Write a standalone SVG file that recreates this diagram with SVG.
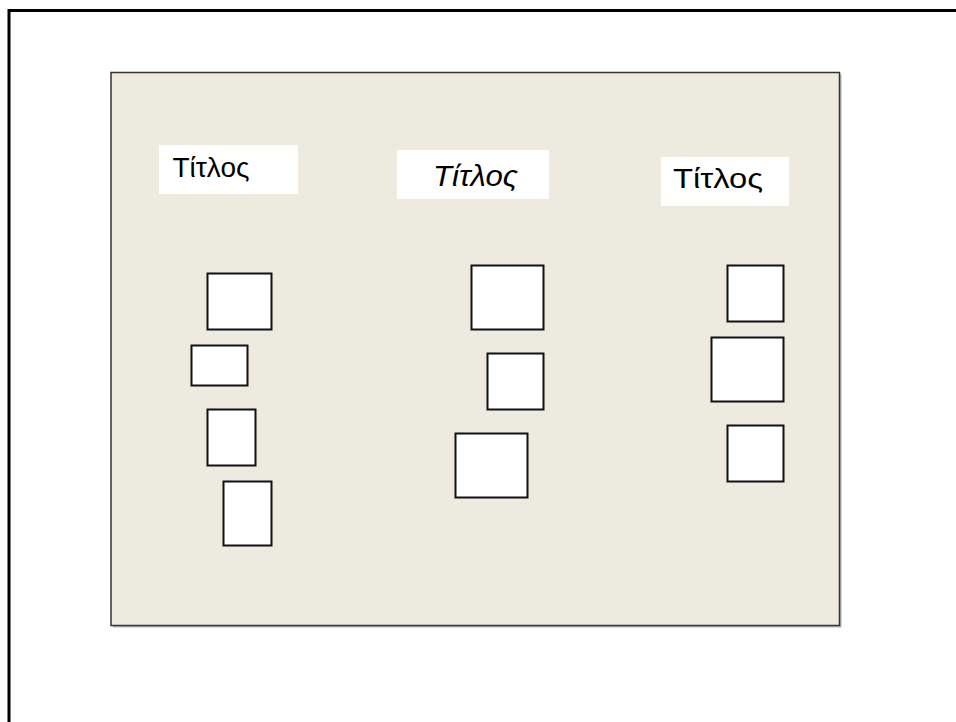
<svg xmlns="http://www.w3.org/2000/svg" width="956" height="722" viewBox="0 0 956 722">
<style>
.box{fill:#ffffff;stroke:#111111;stroke-width:2}
.shadow{fill:#888888;opacity:0.6}
.tbox{fill:#ffffff;stroke:none}
.t{fill:#000000;font-family:"Liberation Sans","DejaVu Sans",sans-serif}
</style>
<rect width="956" height="722" fill="#ffffff"/>
<g id="frame">
<path d="M9,722 V10.5 H956" fill="none" stroke="#000000" stroke-width="3"/>
</g>
<g id="panel">
<rect x="113" y="74.5" width="728.5" height="553" class="shadow"/>
<rect x="111" y="72.5" width="728.5" height="553" fill="#EDEAE0" stroke="#333333" stroke-width="1.5"/>
</g>
<g id="title1">
<rect x="159" y="145" width="139" height="49" class="tbox"/>
<text x="172.5" y="177" class="t" font-size="27" font-weight="300" textLength="77" lengthAdjust="spacingAndGlyphs">Τίτλος</text>
</g>
<g id="title2">
<rect x="397" y="150" width="152" height="49" class="tbox"/>
<text x="433" y="185.5" class="t" font-size="30" font-style="italic" textLength="85" lengthAdjust="spacingAndGlyphs">Τίτλος</text>
</g>
<g id="title3">
<rect x="661" y="157" width="128" height="49" class="tbox"/>
<text x="673" y="188" class="t" font-size="27" textLength="90" lengthAdjust="spacingAndGlyphs">Τίτλος</text>
</g>
<g id="col1">
<rect id="c1b1" x="207.5" y="273.5" width="64" height="56" class="box"/>
<rect id="c1b2" x="191.5" y="345.5" width="56" height="40" class="box"/>
<rect id="c1b3" x="207.5" y="409.5" width="48" height="56" class="box"/>
<rect id="c1b4" x="223.5" y="481.5" width="48" height="64" class="box"/>
</g>
<g id="col2">
<rect id="c2b1" x="471.5" y="265.5" width="72" height="64" class="box"/>
<rect id="c2b2" x="487.5" y="353.5" width="56" height="56" class="box"/>
<rect id="c2b3" x="455.5" y="433.5" width="72" height="64" class="box"/>
</g>
<g id="col3">
<rect id="c3b1" x="727.5" y="265.5" width="56" height="56" class="box"/>
<rect id="c3b2" x="711.5" y="337.5" width="72" height="64" class="box"/>
<rect id="c3b3" x="727.5" y="425.5" width="56" height="56" class="box"/>
</g>
<g id="connectors"></g>
</svg>
